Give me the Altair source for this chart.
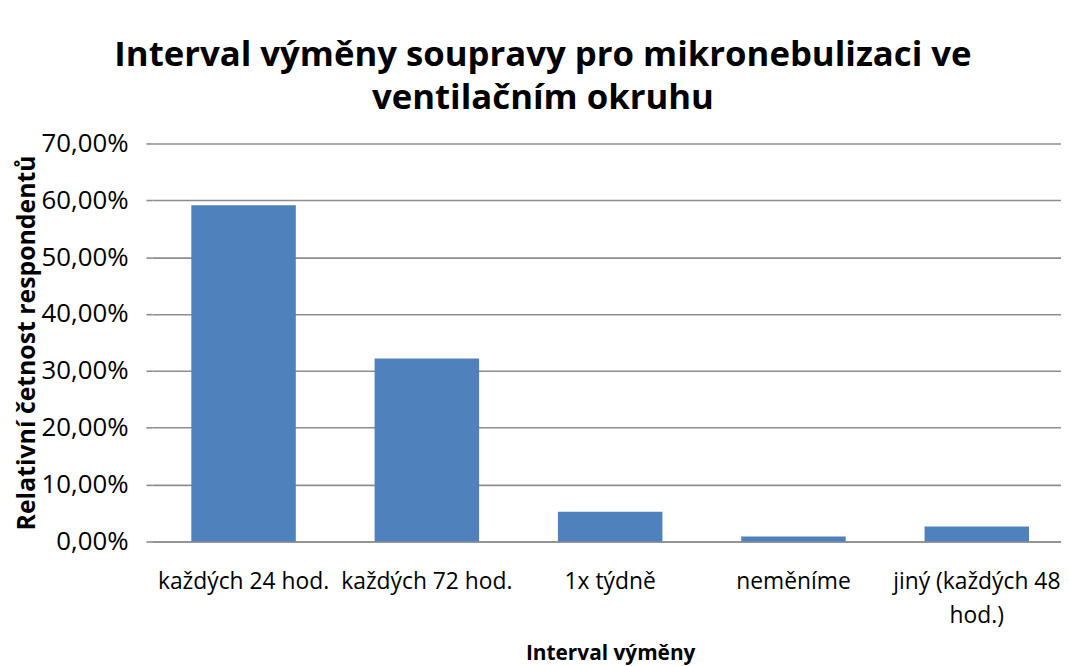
import altair as alt
import pandas as pd

categories = ["každých 24 hod.", "každých 72 hod.", "1x týdně", "neměníme", "jiný (každých 48 hod.)"]
values = [0.5913, 0.3217, 0.0522, 0.0087, 0.0261]
y_ticks = [0.0, 0.1, 0.2, 0.3, 0.4, 0.5, 0.6, 0.7]
title_lines = ["Interval výměny soupravy pro mikronebulizaci ve", "ventilačním okruhu"]

df = pd.DataFrame({"cat": categories, "val": values})

FONT = "Open Sans"
GRID = "#8e8e8e"

label_expr_x = ("datum.value == 'jiný (každých 48 hod.)' ? "
                "['jiný (každých 48', 'hod.)'] : datum.value")

chart = alt.Chart(df).mark_bar(color="#4F81BD").encode(
    x=alt.X(
        "cat:N", sort=categories, title="Interval výměny",
        scale=alt.Scale(range=[0, 923.5], paddingInner=0.43, paddingOuter=0.215),
        axis=alt.Axis(
            labelAngle=0, labelExpr=label_expr_x, labelFont=FONT, labelFontSize=23,
            labelColor="#000000", labelPadding=29, labelLineHeight=35,
            labelBaseline="top", ticks=False, domain=True, domainColor=GRID,
            domainWidth=1.6, titleFont=FONT, titleFontSize=21, titleFontWeight="bold",
            titleColor="#000000", titlePadding=15, labelOverlap=False, labelLimit=300,
        ),
    ),
    y=alt.Y(
        "val:Q", title="Relativní četnost respondentů",
        scale=alt.Scale(domain=[0, 0.7], nice=False),
        axis=alt.Axis(
            values=y_ticks, labelExpr="replace(format(datum.value, '.2%'), '.', ',')",
            labelFont=FONT, labelFontSize=26, labelColor="#000000", labelPadding=18,
            tickSize=6, tickColor=GRID, tickWidth=1.6, domain=False,
            grid=True, gridColor=GRID, gridWidth=1.6,
            titleFont=FONT, titleFontSize=25, titleFontWeight="bold",
            titleColor="#000000", titlePadding=2,
        ),
    ),
).properties(
    width=916,
    height=401,
    title=alt.TitleParams(
        title_lines, font=FONT, fontSize=35, fontWeight="bold", color="#000000",
        anchor="middle", frame="group", dx=-64, lineHeight=43, offset=15,
    ),
    autosize="none",
    padding={"left": 145, "top": 134, "right": 0, "bottom": 123},
).configure_view(stroke=None)

chart.save("out.html", embed_options={"renderer": "svg", "actions": False})
